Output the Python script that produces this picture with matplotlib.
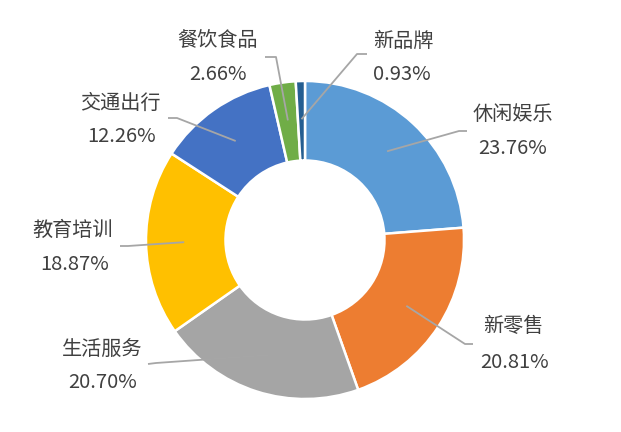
import numpy as np
import matplotlib.pyplot as plt

plt.rcParams['font.family'] = ['Noto Sans CJK SC', 'DejaVu Sans']

# ── données ──────────────────────────────────────────────────────────────
categories = ['休闲娱乐', '新零售', '生活服务', '教育培训', '交通出行', '餐饮食品', '新品牌']
shares = [23.76, 20.81, 20.70, 18.87, 12.26, 2.66, 0.93]
pct_labels = ['23.76%', '20.81%', '20.70%', '18.87%', '12.26%', '2.66%', '0.93%']
colors = ['#5B9BD5', '#ED7D31', '#A5A5A5', '#FFC000', '#4472C4', '#70AD47', '#255E91']

# positions des étiquettes (pixels, origine en haut à gauche)
label_xy = [(513, 115), (513, 327), (102, 349), (73, 230), (120, 103), (218, 41), (403, 41)]
pct_xy = [(513, 149), (515, 362), (103, 383), (75, 264), (122, 137), (218, 74), (402, 74)]
elbow_xy = [(459, 131), (465, 344), (156, 363), (128, 246), (177, 118), (276, 57), (357, 54)]
end_xy = [(467, 131), (473, 344), (148, 364), (120, 246), (168, 118), (265, 57), (367, 54)]

W, H = 621, 432
CX, CY, R = 305, 240, 159
TEXT = '#404040'
LINE = '#A6A6A6'


def py(y):
    return H - y


fig = plt.figure(figsize=(W / 100, H / 100), dpi=100)
ax = fig.add_axes([0, 0, 1, 1])

wedges, _ = ax.pie(shares, colors=colors, radius=R, center=(CX, py(CY)),
                   startangle=90, counterclock=False,
                   wedgeprops=dict(width=R / 2, edgecolor='white', linewidth=1.8))

# ── lignes de rappel + étiquettes ────────────────────────────────────────
for w, lab, pct, lxy, pxy, exy, nxy in zip(wedges, categories, pct_labels,
                                           label_xy, pct_xy, elbow_xy, end_xy):
    mid = np.deg2rad((w.theta1 + w.theta2) / 2)
    sx = CX + 0.76 * R * np.cos(mid)
    sy = py(CY) + 0.76 * R * np.sin(mid)
    ax.plot([sx, exy[0], nxy[0]], [sy, py(exy[1]), py(nxy[1])],
            color=LINE, lw=1.3, solid_capstyle='butt', zorder=3)
    ax.text(lxy[0], py(lxy[1]), lab, ha='center', va='center',
            fontsize=14.5, color=TEXT)
    ax.text(pxy[0], py(pxy[1]), pct, ha='center', va='center',
            fontsize=14.5, color=TEXT)

ax.set_xlim(0, W)
ax.set_ylim(0, H)
ax.set_aspect('equal')
ax.axis('off')

fig.savefig('out.png', dpi=100)
